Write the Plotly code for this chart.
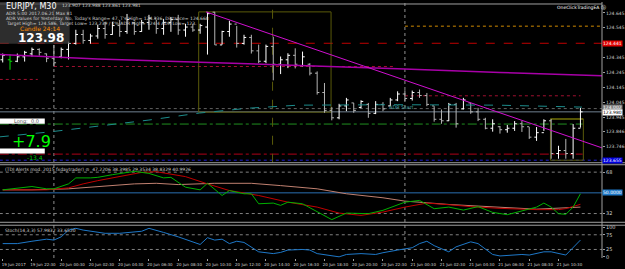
import plotly.graph_objects as go

# ---------------- data ----------------
bar_idx = list(range(80))
high = [124.372,124.367,124.372,124.390,124.412,124.407,124.372,124.430,124.412,124.452,
        124.532,124.532,124.505,124.565,124.585,124.585,124.598,124.638,124.585,124.598,
        124.632,124.598,124.605,124.618,124.632,124.572,124.572,124.572,124.652,124.652,
        124.525,124.592,124.558,124.498,124.498,124.432,124.432,124.485,124.352,124.374,
        124.407,124.385,124.307,124.252,124.174,124.012,124.034,124.074,124.040,124.058,
        124.040,124.052,124.045,124.074,124.118,124.125,124.123,124.130,124.107,124.018,
        123.996,124.040,124.040,124.074,124.040,124.007,123.940,123.930,123.885,123.892,
        123.918,123.918,123.878,123.878,123.930,123.932,123.752,123.798,123.898,124.007]
low = [124.312,124.263,124.314,124.318,124.352,124.358,124.314,124.285,124.340,124.332,
       124.432,124.438,124.438,124.472,124.472,124.498,124.485,124.505,124.498,124.518,
       124.532,124.505,124.498,124.518,124.498,124.485,124.518,124.505,124.365,124.430,
       124.432,124.485,124.412,124.432,124.372,124.307,124.307,124.192,124.234,124.274,
       124.272,124.285,124.225,124.096,123.974,123.923,123.930,123.985,123.974,124.005,
       123.940,123.965,123.985,124.018,124.052,124.052,124.056,124.074,124.018,123.914,
       123.900,123.918,123.874,123.996,123.967,123.918,123.863,123.847,123.834,123.840,
       123.852,123.845,123.798,123.785,123.852,123.665,123.665,123.665,123.665,123.874]
open_ = [124.330,124.330,124.320,124.350,124.370,124.400,124.370,124.340,124.350,124.400,
         124.440,124.500,124.460,124.490,124.540,124.500,124.560,124.520,124.580,124.520,
         124.580,124.610,124.540,124.580,124.600,124.530,124.550,124.530,124.550,124.650,
         124.430,124.520,124.570,124.440,124.480,124.390,124.320,124.420,124.300,124.330,
         124.360,124.290,124.300,124.240,124.110,123.990,123.940,124.020,124.040,124.010,
         124.030,123.970,124.030,124.020,124.060,124.100,124.070,124.110,124.090,124.020,
         123.930,123.920,124.030,124.000,124.040,123.980,123.930,123.870,123.880,123.860,
         123.870,123.900,123.880,123.810,123.840,123.920,123.700,123.720,123.700,123.870]
close = [124.360,124.320,124.350,124.380,124.400,124.380,124.340,124.310,124.400,124.440,
         124.500,124.460,124.490,124.540,124.500,124.560,124.520,124.600,124.520,124.580,
         124.610,124.540,124.580,124.600,124.530,124.550,124.530,124.560,124.640,124.430,
         124.520,124.570,124.440,124.480,124.390,124.320,124.420,124.300,124.330,124.360,
         124.300,124.350,124.240,124.110,123.990,123.940,124.020,124.060,123.990,124.050,
         123.970,124.030,124.000,124.060,124.100,124.070,124.110,124.090,124.030,123.930,
         123.920,124.030,123.900,124.060,123.980,123.930,123.870,123.900,123.860,123.870,
         123.900,123.880,123.810,123.840,123.920,123.700,123.720,123.700,123.870,123.980]
green_bars = [1]

# tick labels (bar index, text)
x_tick_bars = [0, 4, 8, 12, 16, 20, 24, 28, 32, 36, 40, 44, 48, 52, 56, 60, 64, 68, 72, 76]
x_tick_text = ["19 Jun 2017", "19 Jun 22:30", "20 Jun 00:30", "20 Jun 02:30", "20 Jun 04:30",
               "20 Jun 06:30", "20 Jun 08:30", "20 Jun 10:30", "20 Jun 12:30", "20 Jun 14:30",
               "20 Jun 16:30", "20 Jun 18:30", "20 Jun 20:30", "20 Jun 22:30", "21 Jun 00:30",
               "21 Jun 02:30", "21 Jun 04:30", "21 Jun 06:30", "21 Jun 08:30", "21 Jun 10:30"]
price_ticks = [123.746, 123.846, 123.945, 124.045, 124.145, 124.245, 124.345, 124.545, 124.645]
day_starts = [7, 55]

# indicator lines on price chart
trend_x = [27.8, 81.95]
trend_y = [124.652, 123.738]
ma_x = [-0.4, 13, 27, 40, 54, 68, 82]
ma_y = [124.365, 124.335, 124.314, 124.295, 124.270, 124.245, 124.223]
adr_x = [-0.4, 6.4, 13.2, 20, 26.9, 33.7, 40.4, 54, 67.7, 79.2]
adr_y = [123.812, 123.845, 123.885, 123.925, 123.972, 124.005, 124.025, 124.028, 124.025, 124.012]

bid_price = 123.980
red_level = 124.441
orange_level = 124.556
adr_start_level = 124.002
green_level = 123.898
low_red_level = 123.696
blue_level = 123.655
yellow_level = 123.932
day_pivot_x0 = [-0.4, 7, 55]
day_pivot_x1 = [4.8, 53.4, 79]
day_pivot_y = [124.198, 124.285, 124.088]
box1 = [26.8, 44.9, 123.978, 124.652]
box2 = [74.9, 79.4, 123.655, 123.932]
box_mid = 36.9

# TDI
tdi_green_x = [0,2,4,6,7,9,10,12,13,15,18,20,22,23,25,27,28,30,31,33,34,35,37,38,39,41,44,45,47,50,52,55,57,59,61,63,65,67,69,71,73,74,75,76,77,78,79]
tdi_green_y = [52.6,54.3,55.5,53.5,53.5,57.8,63.0,63.0,63.5,65.8,68.7,66.9,63.0,63.5,54.9,52.6,58.3,47.7,52.0,49.2,49.2,40.5,41.1,39.1,41.9,40.5,30.4,26.7,32.4,31.9,34.8,41.9,43.4,36.2,37.6,35.0,38.0,33.0,31.0,34.0,37.6,41.1,37.6,31.9,31.3,37.6,49.2]
tdi_red_x = [0,6,9,11,13,16,19,21,25,28,31,35,39,43,46,49,52,55,58,61,64,68,71,73,76,77,79]
tdi_red_y = [52.6,52.6,54.3,57.8,60.6,64.1,67.8,68.4,64.1,57.8,52.0,47.7,41.9,37.6,32.4,30.4,33.3,37.6,41.1,39.7,38.0,36.5,35.5,35.4,35.4,36.3,40.0]
tdi_base_x = [0,4,9,13,18,21,24,29,34,38,43,47,52,55,57,59,61,65,69,73,79]
tdi_base_y = [52.6,52.6,53.5,55.5,57.8,58.3,57.2,58.3,58.3,56.3,53.5,49.2,45.7,42.8,41.9,40.5,39.9,38.5,37.0,35.8,37.6]

# Stochastic
stoch_x = [0,2,4,6,7,8,9,10,11,13,14,16,18,19,20,21,22,24,26,27,28,29,30,31,32,33,35,37,38,39,41,42,43,45,46,47,49,51,52,54,56,57,58,59,61,62,64,65,67,68,70,71,72,74,75,76,77,79]
stoch_y = [45,45,53,60,57,68,91,97,91,83,80,80,83,87,97,91,83,68,51,42,65,57,60,45,53,49,17,11,15,23,25,23,11,2,0,8,11,8,14,23,31,45,53,38,17,34,51,45,8,3,6,8,6,17,17,11,6,57]

# ---------------- figure ----------------
FONT = "DejaVu Sans"
fig = go.Figure()

norm = [i for i in bar_idx if i not in green_bars]
fig.add_trace(go.Ohlc(
    x=norm, open=[open_[i] for i in norm], high=[high[i] for i in norm],
    low=[low[i] for i in norm], close=[close[i] for i in norm],
    increasing=dict(line=dict(color="#ffffff", width=1)),
    decreasing=dict(line=dict(color="#b4b4b4", width=1)),
    tickwidth=0.3, showlegend=False, hoverinfo="skip", yaxis="y"))
fig.add_trace(go.Ohlc(
    x=green_bars, open=[open_[i] for i in green_bars], high=[high[i] for i in green_bars],
    low=[low[i] for i in green_bars], close=[close[i] for i in green_bars],
    increasing=dict(line=dict(color="#00e000", width=1)),
    decreasing=dict(line=dict(color="#00e000", width=1)),
    tickwidth=0.3, showlegend=False, hoverinfo="skip", yaxis="y"))

def line(x, y, color, width=1, dash="solid", axis="y"):
    fig.add_trace(go.Scatter(x=x, y=y, mode="lines", line=dict(color=color, width=width, dash=dash),
                             showlegend=False, hoverinfo="skip", yaxis=axis))

line(ma_x, ma_y, "#a800a8", 1.5)
line(trend_x, trend_y, "#d010d0", 1)
line(adr_x, adr_y, "#1c8c8c", 1, "dash")

# TDI
line(tdi_base_x, tdi_base_y, "#c08070", 1, axis="y2")
line(tdi_red_x, tdi_red_y, "#c00000", 1, axis="y2")
line(tdi_green_x, tdi_green_y, "#00b000", 1, axis="y2")
# Stoch
line(stoch_x, stoch_y, "#1e78c8", 1, axis="y3")

shapes = []
def hline(y, color, dash, x0=-0.4, x1=81.95, yref="y", width=1):
    shapes.append(dict(type="line", xref="x", yref=yref, x0=x0, x1=x1, y0=y, y1=y,
                       line=dict(color=color, width=width, dash=dash), layer="below"))

hline(red_level, "#c00000", "dash")
hline(orange_level, "#d08a00", "dot", x0=day_starts[1])
hline(adr_start_level, "#606060", "dot")
hline(bid_price, "#708090", "solid")
hline(green_level, "#1f8f1f", "dashdot", x1=79.3)
hline(low_red_level, "#b00018", "dashdot", x1=79.3)
hline(blue_level, "#2020d0", "dot")
hline(yellow_level, "#a0a000", "solid", x0=box2[0], x1=box2[1])
for x0, x1, y in zip(day_pivot_x0, day_pivot_x1, day_pivot_y):
    hline(y, "#a01030", "dot", x0=x0, x1=x1)
for b in (box1, box2):
    shapes.append(dict(type="rect", xref="x", yref="y", x0=b[0], x1=b[1], y0=b[2], y1=b[3],
                       line=dict(color="#5a5a0a", width=1), layer="below"))
shapes.append(dict(type="line", xref="x", yref="y", x0=box_mid, x1=box_mid, y0=123.638, y1=124.705,
                   line=dict(color="#5a5a0a", width=1, dash="dash"), layer="below"))
for d in day_starts:
    shapes.append(dict(type="line", xref="x", yref="paper", x0=d, x1=d, y0=0, y1=1,
                       line=dict(color="#909090", width=1, dash="dot"), layer="below"))
# TDI levels
hline(50, "#2a6fb0", "solid", yref="y2")
hline(68, "#808080", "dot", yref="y2")
hline(32, "#808080", "dot", yref="y2")
# Stoch levels
hline(75, "#808080", "dot", yref="y3")
hline(25, "#808080", "dot", yref="y3")
# panel separators
for yy in (0.3721, 0.3643, 0.1395, 0.128):
    shapes.append(dict(type="line", xref="paper", yref="paper", x0=0, x1=1.04, y0=yy, y1=yy,
                       line=dict(color="#a0a0a0", width=1)))
# right border
shapes.append(dict(type="line", xref="paper", yref="paper", x0=1, x1=1, y0=0, y1=1,
                   line=dict(color="#a0a0a0", width=1)))
shapes.append(dict(type="line", xref="paper", yref="paper", x0=0, x1=1, y0=0.9922, y1=0.9922,
                   line=dict(color="#a0a0a0", width=1)))

ann = []
def label_box(y, text, bg, fg, yref="y", yshift=0):
    ann.append(dict(xref="paper", yref=yref, x=1.0, y=y, text=text, showarrow=False,
                    xanchor="left", yanchor="middle", bgcolor=bg, borderpad=0, yshift=yshift,
                    font=dict(family=FONT, size=4.5, color=fg)))

label_box(red_level, "124.441", "#e00000", "#ffffff")
label_box(adr_start_level, "124.002", "#808080", "#ffffff", yshift=1.5)
label_box(bid_price, "123.980", "#ffffff", "#000000", yshift=-0.5)
label_box(blue_level, "123.655", "#0000e0", "#ffffff")
label_box(50, "50.0000", "#1e78c8", "#ffffff", yref="y2")

def text(x, y, s, size, color, xref="paper", yref="paper", xanchor="left", bold=False):
    ann.append(dict(xref=xref, yref=yref, x=x, y=y, text=("<b>%s</b>" % s if bold else s),
                    showarrow=False, xanchor=xanchor, yanchor="middle",
                    font=dict(family=FONT, size=size, color=color)))

W, H = 605.0, 258.0
def px(xp, yp):
    return xp / W, 1 - yp / H

# top-left info box
shapes.append(dict(type="rect", xref="paper", yref="paper", x0=0, x1=70 / W, y0=1 - 42 / H, y1=1,
                   fillcolor="rgba(60,60,60,0.75)", line=dict(width=0), layer="above"))
text(*px(4, 4.5), "EURJPY, M30", 8, "#ffffff")
text(*px(60, 4), "123.907 123.988 123.861 123.981", 4.5, "#d0d0d0")
text(*px(4, 11.5), "ADR 5:00 2017.06.21 Max 81", 4.5, "#d0d0d0")
text(*px(4, 16.5), "ADR Values for Yesterday: No, Today's Range= 47, T's High= 124.336, Distance= 124.668", 4.5, "#d0d0d0")
text(*px(4, 21.5), "Target High= 124.586, Target Low= 123.239 / 7% ADR High= 124.4 ADR Low= 123.", 4.5, "#d0d0d0")
text(*px(18, 27), "Candle 24:14", 6, "#ff8c00")
text(*px(16, 36), "123.98", 12, "#ffffff", bold=True)
text(*px(558, 5), "OneClickTradingEA \u24c8", 4.5, "#ffffff")
ann.append(dict(xref="x", yref="y", x=56.5, y=124.013, text="ADR Start", showarrow=False,
                xanchor="right", yanchor="middle", font=dict(family=FONT, size=5, color="#40a0a0")))

# left trade info
shapes.append(dict(type="rect", xref="paper", yref="paper", x0=0, x1=45 / W, y0=1 - 122.7 / H, y1=1 - 117.3 / H,
                   fillcolor="#ffffff", line=dict(width=0), layer="above"))
text(*px(12, 120), "Long:  0.0", 5, "#505050")
shapes.append(dict(type="rect", xref="paper", yref="paper", x0=0, x1=45 / W, y0=1 - 152.7 / H, y1=1 - 147.7 / H,
                   fillcolor="#ffffff", line=dict(width=0), layer="above"))
text(*px(10, 141), "+7.9", 16, "#00ff00")
text(*px(25, 157), "-13.4", 6, "#00c000")

# sub-window titles
text(*px(3, 168.5), "(TDI Alerts mod. 2015 fxdaytrader) \u2299  47.2206 38.3985 29.3534 38.8329 40.9926", 4.5, "#d0d0d0")
text(*px(3, 230), "Stoch(14,3,3) 57.9832 33.6520", 4.5, "#d0d0d0")

fig.update_layout(
    width=625, height=269, margin=dict(l=0, r=20, t=0, b=11),
    paper_bgcolor="#000000", plot_bgcolor="#000000",
    shapes=shapes, annotations=ann, showlegend=False,
    xaxis=dict(range=[-0.37, 81.95], anchor="y3", showgrid=False, zeroline=False,
               rangeslider=dict(visible=False), tickmode="array", tickvals=x_tick_bars,
               ticktext=x_tick_text, ticks="outside", ticklen=2, tickcolor="#a0a0a0",
               tickangle=0, tickfont=dict(family=FONT, size=4, color="#d0d0d0"), ticklabelshift=11,
               showline=False),
    yaxis=dict(domain=[0.3721, 0.9922], range=[123.638, 124.705], side="right", anchor="x",
               showgrid=False, zeroline=False, tickmode="array", tickvals=price_ticks,
               ticktext=["%.3f" % v for v in price_ticks], ticks="outside", ticklen=2,
               tickcolor="#a0a0a0", tickfont=dict(family=FONT, size=4.5, color="#d0d0d0")),
    yaxis2=dict(domain=[0.1395, 0.3643], range=[24.39, 74.45], side="right", anchor="x",
                showgrid=False, zeroline=False, tickmode="array", tickvals=[68, 32],
                ticktext=["68", "32"], ticks="outside", ticklen=2, tickcolor="#a0a0a0",
                tickfont=dict(family=FONT, size=5, color="#d0d0d0")),
    yaxis3=dict(domain=[0.0, 0.124], range=[-4, 104], side="right", anchor="x",
                showgrid=False, zeroline=False, tickmode="array", tickvals=[100, 75, 25, 0],
                ticktext=["100", "75", "25", "0"], ticks="outside", ticklen=2, tickcolor="#a0a0a0",
                tickfont=dict(family=FONT, size=5, color="#d0d0d0")),
)

fig.write_html("out.html")
